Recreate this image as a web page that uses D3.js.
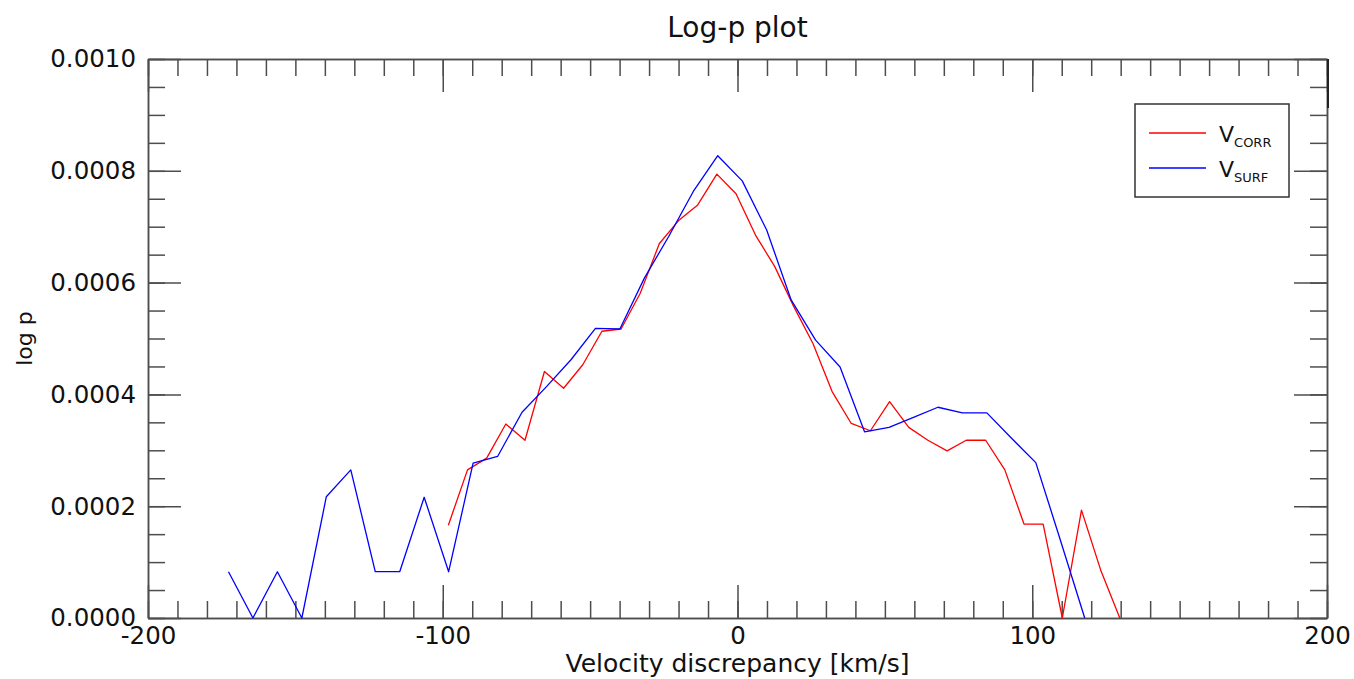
<!DOCTYPE html>
<html>
<head>
<meta charset="utf-8">
<title>Log-p plot</title>
<script src="https://d3js.org/d3.v7.min.js"></script>
<style>
    body { margin: 0; background: #fff; }
    svg { display: block; font-family: 'DejaVu Sans', sans-serif; }
    .axis path, .axis line { stroke: #4d4d4d; stroke-width: 1.5px; }
    .axis text { font-family: 'DejaVu Sans', sans-serif; font-size: 24.5px; fill: #111; }
</style>
</head>
<body>
<div id="chart"></div>
<script>

// V_CORR series
var corrX = [-98.1, -91.6, -85.1, -78.6, -72.1, -65.5, -59.0, -52.5, -46.0, -39.5,
             -33.0, -26.5, -20.0, -13.5, -7.0, -0.5, 6.1, 12.6, 19.1, 25.6,
             32.1, 38.6, 45.1, 51.6, 58.1, 64.6, 71.1, 77.6, 84.2, 90.7,
             97.2, 103.7, 110.2, 116.7, 123.2, 129.7];
var corrY = [0.000166, 0.000265, 0.000286, 0.000347, 0.000318, 0.000441, 0.000411, 0.000453, 0.000513, 0.000517,
             0.000581, 0.000670, 0.000711, 0.000739, 0.000794, 0.000759, 0.000685, 0.000629, 0.000557, 0.000491,
             0.000405, 0.000348, 0.000335, 0.000387, 0.000341, 0.000318, 0.000299, 0.000318, 0.000318, 0.000265,
             0.000168, 0.000168, 0, 0.000193, 0.000086, 0];

// V_SURF series
var surfX = [-172.7, -164.4, -156.1, -147.8, -139.5, -131.2, -122.9, -114.6, -106.3, -98.0,
             -89.7, -81.4, -73.1, -64.8, -56.5, -48.2, -39.9, -31.6, -23.3, -15.0,
             -6.7, 1.6, 9.9, 18.2, 26.5, 34.8, 43.1, 51.4, 59.7, 68.0,
             76.3, 84.6, 92.9, 101.2, 109.5, 117.8];
var surfY = [0.0000828, 0, 0.0000828, 0, 0.000217, 0.000265, 0.0000828, 0.0000828, 0.000216, 0.0000828,
             0.000277, 0.000289, 0.000368, 0.000414, 0.000462, 0.000518, 0.000517, 0.000608, 0.000683, 0.000763,
             0.000827, 0.000782, 0.000694, 0.000569, 0.000497, 0.000449, 0.000333, 0.000341, 0.000359, 0.000377,
             0.000367, 0.000367, 0.000322, 0.000278, 0.000140, 0];

var xTicks = [-200, -100, 0, 100, 200];
var yTicks = [0, 0.0002, 0.0004, 0.0006, 0.0008, 0.0010];
var seriesNames = ["CORR", "SURF"];
var seriesColors = ["#ff0000", "#0000ff"];

var W = 1354, H = 679;
var mLeft = 148, mRight = 1327, mTop = 59, mBottom = 618;

var svg = d3.select("#chart").append("svg")
    .attr("width", W)
    .attr("height", H);

var x = d3.scaleLinear().domain([-200, 200]).range([mLeft, mRight]);
var y = d3.scaleLinear().domain([0, 0.001]).range([mBottom, mTop]);

var xMinor = d3.range(-200, 201, 10);
var yMinor = d3.range(0, 0.00100001, 0.00005);

//bottom axis
svg.append("g").attr("class", "axis")
    .attr("transform", "translate(0," + mBottom + ")")
    .call(d3.axisBottom(x).tickValues(xMinor).tickSize(-17).tickSizeOuter(0).tickFormat(""));
svg.append("g").attr("class", "axis")
    .attr("transform", "translate(0," + mBottom + ")")
    .call(d3.axisBottom(x).tickValues(xTicks).tickSize(-33).tickSizeOuter(0).tickPadding(9)
        .tickFormat(function(d) { return String(d); }));

//top axis
svg.append("g").attr("class", "axis")
    .attr("transform", "translate(0," + mTop + ")")
    .call(d3.axisTop(x).tickValues(xMinor).tickSize(-17).tickSizeOuter(0).tickFormat(""));
svg.append("g").attr("class", "axis")
    .attr("transform", "translate(0," + mTop + ")")
    .call(d3.axisTop(x).tickValues(xTicks).tickSize(-33).tickSizeOuter(0).tickFormat(""));

//left axis
svg.append("g").attr("class", "axis")
    .attr("transform", "translate(" + mLeft + ",0)")
    .call(d3.axisLeft(y).tickValues(yMinor).tickSize(-17).tickSizeOuter(0).tickFormat(""));
svg.append("g").attr("class", "axis")
    .attr("transform", "translate(" + mLeft + ",0)")
    .call(d3.axisLeft(y).tickValues(yTicks).tickSize(-33).tickSizeOuter(0).tickPadding(12)
        .tickFormat(d3.format(".4f")));

//right axis
svg.append("g").attr("class", "axis")
    .attr("transform", "translate(" + mRight + ",0)")
    .call(d3.axisRight(y).tickValues(yMinor).tickSize(-17).tickSizeOuter(0).tickFormat(""));
svg.append("g").attr("class", "axis")
    .attr("transform", "translate(" + mRight + ",0)")
    .call(d3.axisRight(y).tickValues(yTicks).tickSize(-33).tickSizeOuter(0).tickFormat(""));

svg.append("line")
    .attr("x1", mRight + 1).attr("x2", mRight + 1)
    .attr("y1", mTop).attr("y2", mTop + 49)
    .style("stroke", "#222").style("stroke-width", "2px");

//lines
var line = d3.line()
    .x(function(d) { return x(d[0]); })
    .y(function(d) { return y(d[1]); });

var series = [d3.zip(corrX, corrY), d3.zip(surfX, surfY)];
series.forEach(function(s, i) {
    svg.append("path")
        .datum(s)
        .attr("d", line)
        .style("fill", "none")
        .style("stroke", seriesColors[i])
        .style("stroke-width", "1.3px")
        .style("stroke-linejoin", "round");
});

//title and labels
svg.append("text")
    .attr("x", (mLeft + mRight) / 2)
    .attr("y", 37)
    .attr("text-anchor", "middle")
    .style("font-size", "28px")
    .style("fill", "#111")
    .text("Log-p plot");

svg.append("text")
    .attr("x", (mLeft + mRight) / 2)
    .attr("y", 672)
    .attr("text-anchor", "middle")
    .style("font-size", "25px")
    .style("fill", "#111")
    .text("Velocity discrepancy [km/s]");

svg.append("text")
    .attr("transform", "translate(32," + ((mTop + mBottom) / 2) + ") rotate(-90)")
    .attr("text-anchor", "middle")
    .style("font-size", "22px")
    .style("fill", "#111")
    .text("log p");

//legend
svg.append("rect")
    .attr("x", 1135)
    .attr("y", 104)
    .attr("width", 154)
    .attr("height", 93)
    .style("fill", "white")
    .style("stroke", "#333")
    .style("stroke-width", "1.5px");

seriesNames.forEach(function(name, i) {
    var ly = 133 + i * 35;
    svg.append("line")
        .attr("x1", 1149).attr("x2", 1206)
        .attr("y1", ly).attr("y2", ly)
        .style("stroke", seriesColors[i])
        .style("stroke-width", "1.3px");
    var t = svg.append("text")
        .attr("x", 1219)
        .attr("y", ly + 9)
        .style("font-size", "22px")
        .style("fill", "#111");
    t.append("tspan").text("V");
    t.append("tspan")
        .attr("dy", 5)
        .style("font-size", "13px")
        .text(name);
});

</script>
</body>
</html>
